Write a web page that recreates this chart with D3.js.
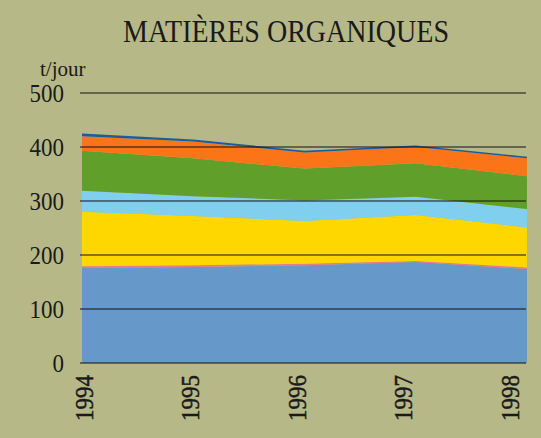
<!DOCTYPE html>
<html><head><meta charset="utf-8">
<script src="https://cdn.jsdelivr.net/npm/d3@7"></script>
<style>body{margin:0;background:#b6b887;} svg{display:block;}</style>
</head><body>
<svg id="c" width="541" height="438"></svg>
<script>
const years = ["1994","1995","1996","1997","1998"];
const blue = [176, 178, 181, 187, 174];
const pink = [3, 3, 3, 2, 3];
const yellow = [101, 91, 79, 85, 74];
const lightBlue = [39, 37, 38, 34, 34];
const green = [74, 70, 59, 62, 61];
const orange = [27, 31, 30, 30, 33];
const darkBlue = [5, 4, 3, 3, 3];
const yTicks = [0, 100, 200, 300, 400, 500];
const seriesNames = ["blue","pink","yellow","lightBlue","green","orange","darkBlue"];
const seriesVals = [blue,pink,yellow,lightBlue,green,orange,darkBlue];
const colors = ["#6699c9","#e47a93","#ffd700","#80cfef","#60a02a","#fb7418","#1b5c9c"];

const table = years.map((y,i)=>{const o={year:y}; seriesNames.forEach((n,k)=>o[n]=seriesVals[k][i]); return o;});
const svg = d3.select("#c");
const x = d3.scalePoint().domain(years).range([82,527]);
const xLabel = d3.scalePoint().domain(years).range([85.5,511]);
const y = d3.scaleLinear().domain([0,500]).range([363,93]);
const stack = d3.stack().keys(seriesNames)(table);
const area = d3.area().x(d=>x(d.data.year)).y0(d=>y(d[0])).y1(d=>y(d[1]));
svg.append("g").selectAll("path").data(stack).join("path")
  .attr("d",area).attr("fill",(d,i)=>colors[i]);

// gridlines
svg.append("g").selectAll("line").data(yTicks).join("line")
  .attr("x1",80).attr("x2",526).attr("y1",d=>y(d)).attr("y2",d=>y(d))
  .attr("stroke","#111").attr("stroke-width",1.2);

const font = "'Liberation Serif','DejaVu Serif',serif";
svg.append("g").selectAll("text").data(yTicks).join("text")
  .attr("transform",d=>`translate(64,${y(d)+8.5}) scale(0.92,1)`).attr("text-anchor","end")
  .attr("font-family",font).attr("font-size",25).attr("fill","#1a1a1a")
  .text(d=>d);

svg.append("g").selectAll("text").data(years).join("text")
  .attr("transform",d=>`translate(${xLabel(d)+7.5},375) rotate(-90) scale(0.92,1)`)
  .attr("text-anchor","end")
  .attr("font-family",font).attr("font-size",25).attr("fill","#1a1a1a")
  .attr("stroke","#1a1a1a").attr("stroke-width",0.5)
  .text(d=>d);

svg.append("text").attr("x",40).attr("y",76)
  .attr("font-family",font).attr("font-size",21).attr("fill","#1a1a1a").text("t/jour");

svg.append("text").attr("x",123).attr("y",42)
  .attr("textLength",326).attr("lengthAdjust","spacingAndGlyphs")
  .attr("font-family",font).attr("font-size",31).attr("fill","#1a1a1a").text("MATIÈRES ORGANIQUES");
</script>
</body></html>
